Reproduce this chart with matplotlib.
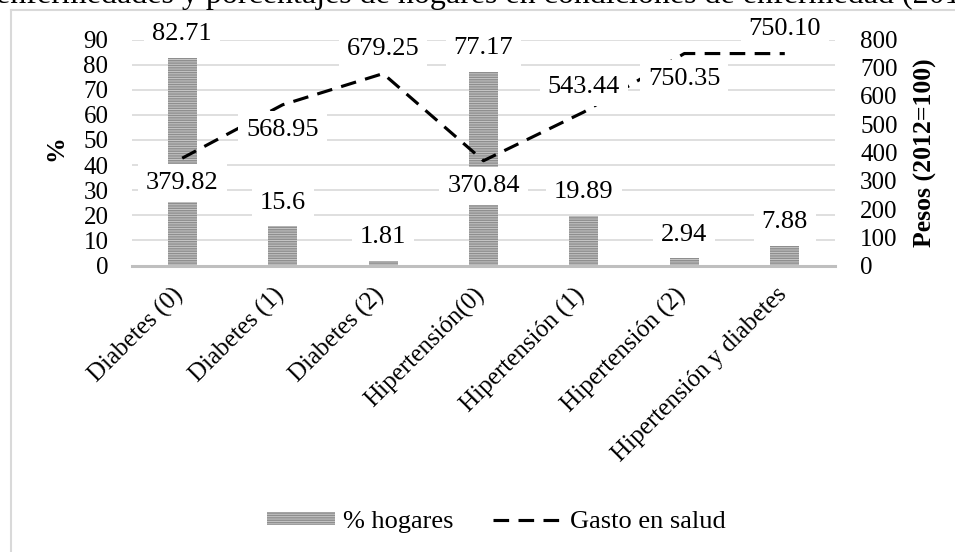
import numpy as np
import matplotlib
matplotlib.use("Agg")
import matplotlib.pyplot as plt
from matplotlib.patches import Patch
from matplotlib.lines import Line2D
from matplotlib.transforms import ScaledTranslation

plt.rcParams["font.family"] = ["Liberation Serif", "DejaVu Serif"]
plt.rcParams["hatch.linewidth"] = 1.0

# Data
categorias = ["Diabetes (0)", "Diabetes (1)", "Diabetes (2)", "Hipertensión(0)",
              "Hipertensión (1)", "Hipertensión (2)", "Hipertensión y diabetes"]
hogares = [82.71, 15.6, 1.81, 77.17, 19.89, 2.94, 7.88]
hogares_txt = ["82.71", "15.6", "1.81", "77.17", "19.89", "2.94", "7.88"]
gasto = [379.82, 568.95, 679.25, 370.84, 543.44, 750.35, 750.10]
gasto_txt = ["379.82", "568.95", "679.25", "370.84", "543.44", "750.35", "750.10"]
titulo = "enfermedades y porcentajes de hogares en condiciones de enfermedad (201"

# label placement for the line series (+1 above the point, -1 below)
lado_gasto = [-1, -1, 1, -1, 1, -1, 1]

W, H = 955, 552
fig = plt.figure(figsize=(W / 100, H / 100), dpi=100)

# frame of the chart area
grey = "#d9d9d9"
fig.add_artist(Line2D([11 / W, 11 / W], [0, 1 - 10 / H], color=grey, lw=1.5, transform=fig.transFigure))
fig.add_artist(Line2D([11 / W, 1], [1 - 10 / H, 1 - 10 / H], color=grey, lw=1.5, transform=fig.transFigure))

# title line (runs off the top edge)
fig.text(-4 / W, 1 - 3 / H, titulo, fontsize=23, ha="left", va="baseline")

left, right, top, bottom = 132, 835, 39.5, 265.5
ax = fig.add_axes([left / W, 1 - bottom / H, (right - left) / W, (bottom - top) / H])
x = np.arange(len(categorias))
bar_face = "#c6c6c6"
bar_hatch = "#8e8e8e"
ax.bar(x, hogares, width=0.29, color=bar_face, edgecolor=bar_hatch, hatch="-------", linewidth=0, zorder=2)
ax.set_xlim(-0.5, len(categorias) - 0.5)
ax.set_ylim(0, 90)
ax.set_yticks(np.arange(0, 91, 10))
ax.yaxis.grid(True, color=grey, lw=1.2)
ax.set_axisbelow(True)
for s in ["top", "left", "right"]:
    ax.spines[s].set_visible(False)
ax.spines["bottom"].set_color("#bfbfbf")
ax.spines["bottom"].set_linewidth(2.2)
ax.spines["bottom"].set_zorder(3)
ax.tick_params(axis="y", length=0, pad=17, labelsize=18)
ax.tick_params(axis="x", length=0, pad=13, labelsize=18)
ax.set_xticks(x)
ax.set_xticklabels(categorias, rotation=45, ha="right", va="top")
shift = ScaledTranslation(6 / 100, 0, fig.dpi_scale_trans)
for lab in ax.get_xticklabels():
    lab.set_transform(lab.get_transform() + shift)

ax2 = ax.twinx()
ax2.set_ylim(0, 800)
ax2.set_yticks(np.arange(0, 801, 100))
for s in ax2.spines.values():
    s.set_visible(False)
ax2.tick_params(axis="y", length=0, pad=18, labelsize=18)
ax2.plot(x, gasto, color="black", lw=2.25, ls=(0, (5, 3)), dash_capstyle="butt", zorder=3)

box = dict(boxstyle="square,pad=0.3", fc="white", ec="none")
# bar value labels
for xi, v, t in zip(x, hogares, hogares_txt):
    y2 = v * 800 / 90
    ax2.annotate(t, (xi, y2), xytext=(0, 17), textcoords="offset points",
                 ha="center", va="center", fontsize=19, bbox=box, zorder=5)
# line value labels
for xi, v, t, s in zip(x, gasto, gasto_txt, lado_gasto):
    ax2.annotate(t, (xi, v), xytext=(0, 18 * s), textcoords="offset points",
                 ha="center", va="center", fontsize=19, bbox=box, zorder=5)

fig.text(56 / W, 1 - 148 / H, "%", rotation=90, fontsize=18.5, fontweight="bold", ha="center", va="center")
fig.text(925 / W, 1 - 153 / H, "Pesos (2012=100)", rotation=90, fontsize=18.5, fontweight="bold",
         ha="center", va="center")

handles = [Patch(facecolor=bar_face, edgecolor=bar_hatch, hatch="-------", linewidth=0),
           Line2D([], [], color="black", lw=2.25, ls=(0, (5, 3)), dash_capstyle="butt")]
fig.legend(handles, ["% hogares", "Gasto en salud"], loc="center",
           bbox_to_anchor=(496 / W, 1 - 522 / H), ncol=2, frameon=False, fontsize=19,
           handlelength=2.6, handleheight=0.4, handletextpad=0.3, columnspacing=1.5)

fig.savefig("out.png", dpi=100)
